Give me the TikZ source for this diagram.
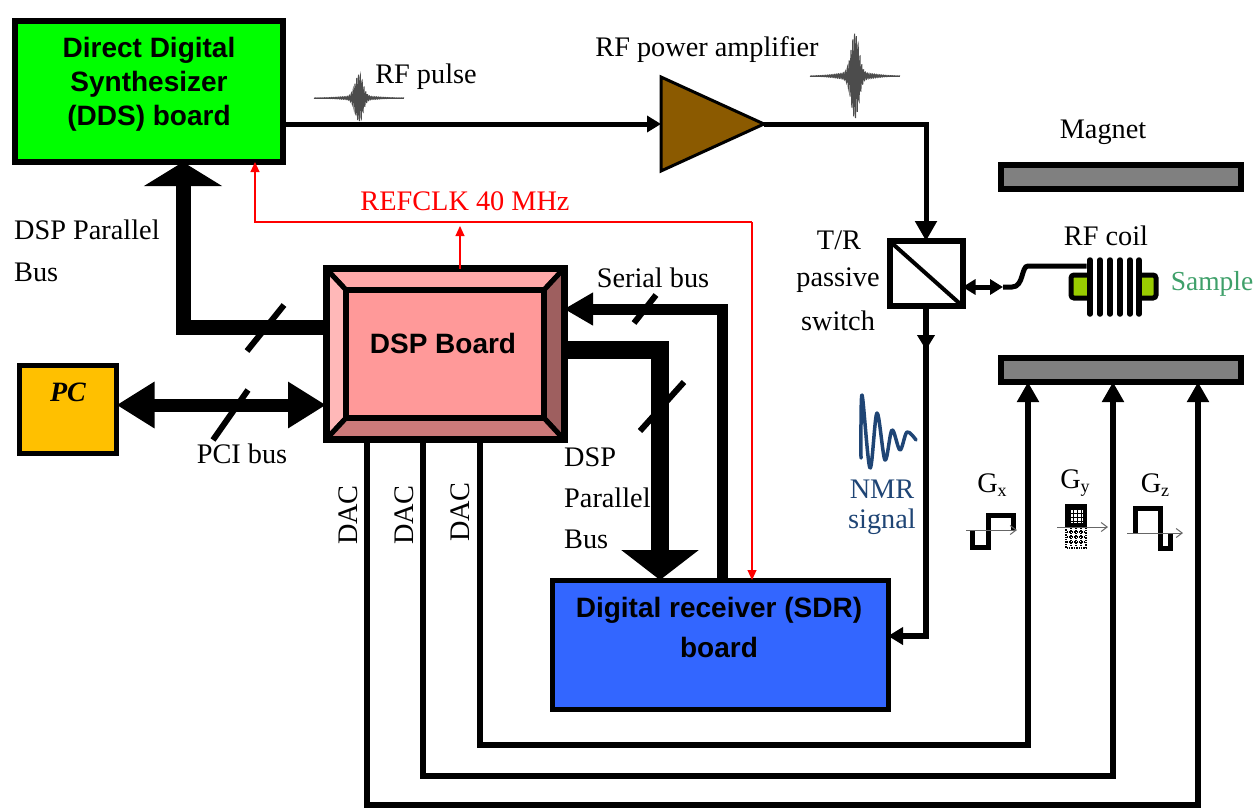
\documentclass[tikz,border=0pt]{standalone}
\usepackage{fontspec}
\setmainfont{Liberation Serif}
\setsansfont{Liberation Sans}
\usetikzlibrary{arrows.meta,shapes.geometric,backgrounds}
\definecolor{ddsgreen}{HTML}{00FF00}
\definecolor{sdrblue}{HTML}{3366FF}
\definecolor{pcgold}{HTML}{FFC000}
\definecolor{ampbrown}{HTML}{8B5A00}
\definecolor{dspmain}{HTML}{FF9999}
\definecolor{magnetgrey}{HTML}{808080}
\definecolor{samplegreen}{HTML}{99CC00}
\definecolor{samplelabel}{HTML}{3FA06A}
\definecolor{nmrblue}{HTML}{1F4575}
\newcommand{\sersize}{\fontsize{28.3}{34}\selectfont}
\newcommand{\boldlabel}{\fontsize{28}{34}\selectfont\sffamily\bfseries}
\newcommand{\subs}[1]{\raisebox{-4pt}{\fontsize{18}{18}\selectfont #1}}
\newcommand{\rfpulse}[4]{\draw[pulse] ({#1-#3},#2) -- ({#1+#3},#2);
  \draw[pulse,shift={(#1,#2)}] plot[domain=-1:1,samples=500] ({\x*#3},{#4*(exp(-(\x/0.12)*(\x/0.12))+0.09*exp(-(\x/0.55)*(\x/0.55)))*sin(\x*9000)});}
\tikzset{
  x=1pt,y=-1pt,
  box/.style={draw=black,inner sep=0pt,outer sep=0pt,align=center,line width=6pt},
  serif/.style={inner sep=0pt,font=\sersize,align=center},
  wire/.style={draw=black,line width=5pt},
  thinwire/.style={draw=black,line width=6pt},
  redwire/.style={draw=red,line width=1.1pt},
  tick/.style={draw=black,line width=6pt},
  pulse/.style={draw=black!70,line width=1pt},
  gwave/.style={draw=black,line width=5pt},
  gaxis/.style={draw=black!60,line width=1pt,-{Straight Barb[length=6pt,width=9pt]}},
  bevel/.style={draw=black,line width=5pt,line join=bevel},
}
\begin{document}
\begin{tikzpicture}
\useasboundingbox (0,0) rectangle (1254,807);
% boards
\node[box,fill=ddsgreen,minimum width=268pt,minimum height=141pt] (dds) at (149,91.5) {};
\node[font=\boldlabel,align=center,inner sep=0pt] (ddslabel) at (149,84) {Direct Digital\\Synthesizer\\(DDS) board};
\node[box,line width=7pt,minimum width=238pt,minimum height=171pt] (dsp) at (445,354) {};
\node[box,fill=dspmain,minimum width=198pt,minimum height=128pt] (dspin) at (445,354) {};
\node[font=\boldlabel,inner sep=0pt] (dsplabel) at (443,343) {DSP Board};
\begin{scope}[on background layer]
  \filldraw[bevel,fill=dspmain!85!white] (dsp.north west) -- (dsp.north east) -- (dspin.north east) -- (dspin.north west) -- cycle;
  \filldraw[bevel,fill=dspmain!70!white] (dsp.north west) -- (dsp.south west) -- (dspin.south west) -- (dspin.north west) -- cycle;
  \filldraw[bevel,fill=dspmain!62!black] (dsp.north east) -- (dsp.south east) -- (dspin.south east) -- (dspin.north east) -- cycle;
  \filldraw[bevel,fill=dspmain!80!black] (dsp.south west) -- (dsp.south east) -- (dspin.south east) -- (dspin.south west) -- cycle;
\end{scope}
\node[box,fill=pcgold,line width=5pt,minimum width=97pt,minimum height=88pt] (pc) at (68,409.5) {};
\node[inner sep=0pt,font=\fontsize{28}{34}\selectfont\bfseries\itshape] (pclabel) at (68,392) {PC};
\node[box,fill=sdrblue,line width=5pt,minimum width=336pt,minimum height=129pt] (sdr) at (720,644.5) {};
\node[font=\fontsize{28}{40}\selectfont\sffamily\bfseries,align=center,inner sep=0pt] (sdrlabel) at (719,627) {Digital receiver (SDR)\\board};
% amplifier
\node[draw=black,fill=ampbrown,line width=3pt,shape=isosceles triangle,isosceles triangle stretches,minimum width=94pt,minimum height=103pt,inner sep=0pt,outer sep=0pt,anchor=lower side] (amp) at (661,124) {};
% switch
\node[box,fill=white,minimum width=73pt,minimum height=65pt] (switch) at (926,273.5) {};
\draw[black,line width=4pt] (switch.north west) -- (switch.south east);
% magnet
\node[box,fill=magnetgrey,minimum width=240pt,minimum height=24pt] (magtop) at (1121,177) {};
\node[box,fill=magnetgrey,minimum width=240pt,minimum height=24pt] (magbot) at (1121,370) {};
% coil
\node[draw=black,fill=samplegreen,line width=5pt,rounded corners=3pt,minimum width=85pt,minimum height=23pt,inner sep=0pt,outer sep=0pt] (sample) at (1113.5,286.5) {};
\node[fill=white,minimum width=55pt,minimum height=52pt,inner sep=0pt,outer sep=0pt] (coil) at (1114,287) {};
\foreach \cx in {1090,1100,1110,1120,1130,1139}
  \draw[black,line width=5.5pt,line cap=round] (\cx,260) -- (\cx,314);
% thick connectors
\draw[line width=15pt,draw=black,{-{Triangle[length=24pt,width=77pt]}}] (dsp.west |- 0,327) -- (183,327) -- (dds.south -| 183,0);
\draw[line width=13pt,draw=black,{Triangle[length=38pt,width=44pt]}-{Triangle[length=38pt,width=44pt]}] (pc.east |- 0,405) -- (dsp.west |- 0,405);
\draw[line width=11pt,draw=black,{-{Triangle[length=29pt,width=31pt]}}] (sdr.north -| 722,0) -- (722,309) -- (dsp.east |- 0,309);
\draw[line width=18pt,draw=black,{-{Triangle[length=30pt,width=76pt]}}] (dsp.east |- 0,350) -- (660,350) -- (sdr.north -| 660,0);
% ticks
\coordinate (t1a) at (247,351); \coordinate (t1b) at (284,305);
\coordinate (t2a) at (213,440); \coordinate (t2b) at (248,390);
\coordinate (t3a) at (634,323); \coordinate (t3b) at (656,295);
\coordinate (t4a) at (640,431); \coordinate (t4b) at (684,382);
\draw[tick] (t1a) -- (t1b); \draw[tick] (t2a) -- (t2b); \draw[tick] (t3a) -- (t3b); \draw[tick] (t4a) -- (t4b);
% RF path
\draw[wire,-{Triangle[length=14pt,width=16pt]}] (dds.east |- amp.lower side) -- (amp.lower side);
\draw[wire,-{Triangle[length=20pt,width=21pt]}] (amp.apex) -- (switch.north |- amp.apex) -- (switch.north);
\draw[thinwire,-{Triangle[length=15pt,width=17pt]}] (switch.south) -- (926,350);
\draw[thinwire,-{Triangle[length=15pt,width=17pt]}] (926,340) -- (926,636) -- (sdr.east |- 0,636);
\coordinate (wirebend) at (1003,287);
\coordinate (wireup) at (1028,266);
\draw[wire,{Triangle[length=13pt,width=15pt]}-{Triangle[length=13pt,width=15pt]}] (switch.east |- 0,287) -- (wirebend);
\draw[wire] (wirebend) -- (1012,287) .. controls (1024,287) and (1021,266) .. (wireup) -- (coil.north west |- 0,266);
% gradient lines
\draw[thinwire,-{Triangle[length=20pt,width=21pt]}] (dsp.south -| 480,0) -- (480,745) -- (1028,745) -- (magbot.south -| 1028,0);
\draw[thinwire,-{Triangle[length=20pt,width=21pt]}] (dsp.south -| 423,0) -- (423,776) -- (1113,776) -- (magbot.south -| 1113,0);
\draw[thinwire,-{Triangle[length=20pt,width=21pt]}] (dsp.south -| 367,0) -- (367,805) -- (1198,805) -- (magbot.south -| 1198,0);
% red clock
\coordinate (redleft) at (255,222);
\coordinate (redright) at (752,222);
\draw[redwire,-{Triangle[length=10pt,width=9pt]}] (dsp.north -| 460,0) -- (460,226);
\draw[redwire,-{Triangle[length=10pt,width=9pt]}] (redright) -- (redleft) -- (dds.south -| 255,0);
\draw[redwire,-{Triangle[length=10pt,width=9pt]}] (redright) -- (sdr.north -| 752,0);
% pulses
\rfpulse{359}{98}{45}{22}
\rfpulse{855}{76}{45}{40}
% NMR
\draw[nmrblue,line width=3.5pt,line cap=round,line join=round] plot[smooth,tension=.55] coordinates {(861,458) (862,395) (870,468) (877,413) (885,460) (892,430) (900,450) (907,432) (916,440)};
% gradients
\draw[gwave,line join=miter] (972,530) -- (972,547) -- (988,547) -- (988,515) -- (1013,515) -- (1013,530);
\draw[gaxis] (966,530) -- (1017,530);
\fill[black] (1065,504) rectangle (1087,527);
\fill[white] (1071,510) rectangle (1083,523);
\foreach \gx in {1073,1077,1081} \draw[black,line width=1pt] (\gx,509) -- (\gx,524);
\foreach \gy in {513,517,521} \draw[black,line width=1pt] (1070,\gy) -- (1084,\gy);
\draw[black,line width=1.4pt,densely dotted] (1066,527) rectangle (1086,548);
\foreach \gy in {532,537,542} \draw[black,line width=1.4pt,densely dotted] (1067,\gy) -- (1085,\gy);
\foreach \gx in {1071,1076,1081} \draw[black,line width=1.4pt,densely dotted] (\gx,528) -- (\gx,547);
\draw[gaxis] (1057,527) -- (1108,527);
\draw[gwave,line join=miter] (1135,533) -- (1135,508) -- (1160,508) -- (1160,548) -- (1170,548) -- (1170,533);
\draw[gaxis] (1127,533) -- (1183,533);
% labels
\node[serif] (l1) at (426,77) {RF pulse};
\node[serif] (l2) at (707,50) {RF power amplifier};
\node[serif] (l3) at (1103,132) {Magnet};
\node[serif,text=red] (l4) at (465,201) {REFCLK 40 MHz};
\node[serif,anchor=west] (l5) at (14,230) {DSP Parallel};
\node[serif,anchor=west] (l6) at (14,272) {Bus};
\node[serif] (l7) at (242,454) {PCI bus};
\node[serif] (l8) at (653,278) {Serial bus};
\node[serif,anchor=west] (l9) at (564,457) {DSP};
\node[serif,anchor=west] (l10) at (564,498) {Parallel};
\node[serif,anchor=west] (l11) at (564,539) {Bus};
\node[serif,rotate=90] (l12) at (348,515) {DAC};
\node[serif,rotate=90] (l13) at (404,515) {DAC};
\node[serif,rotate=90] (l14) at (460,512) {DAC};
\node[serif] (l15) at (839,240) {T/R};
\node[serif] (l16) at (838,280) {passive};
\node[serif] (l17) at (838,321) {switch};
\node[serif] (l18) at (1106,236) {RF coil};
\node[serif,text=samplelabel,font=\fontsize{27.5}{30}\selectfont] (l19) at (1212,284) {Sample};
\node[serif,text=nmrblue] (l20) at (882,489) {NMR};
\node[serif,text=nmrblue] (l21) at (882,522) {signal};
\node[serif] (l22) at (992,485) {G\subs{x}};
\node[serif] (l23) at (1075,483) {G\subs{y}};
\node[serif] (l24) at (1155,485) {G\subs{z}};
\end{tikzpicture}
\end{document}
